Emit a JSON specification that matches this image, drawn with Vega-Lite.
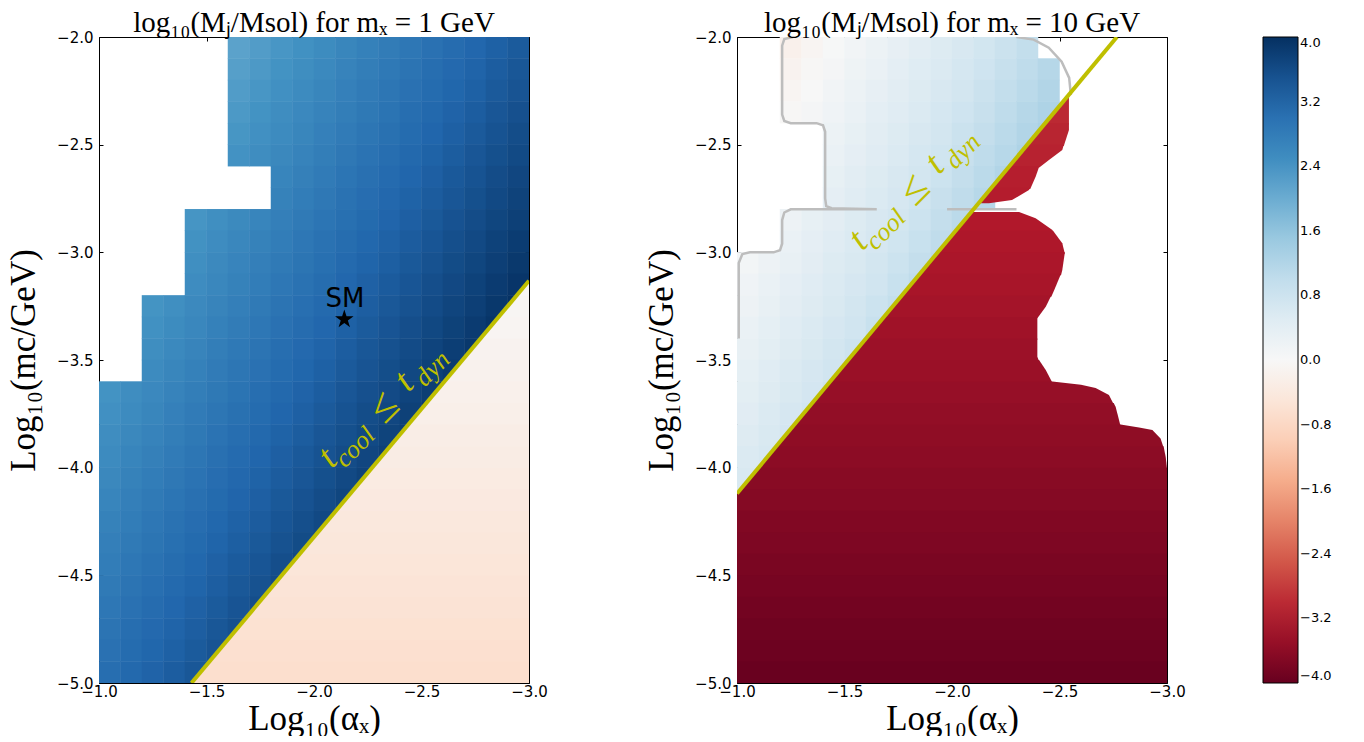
{
"$schema":"https://vega.github.io/schema/vega-lite/v6.json",
"background":"white",
"padding":{"left":6,"top":9,"right":5,"bottom":0},
"datasets":{
"lc":[
{"x":-1.65,"y":-2.05,"v":2.16},{"x":-1.75,"y":-2.05,"v":2.25},{"x":-1.85,"y":-2.05,"v":2.35},{"x":-1.95,"y":-2.05,"v":2.44},{"x":-2.05,"y":-2.05,"v":2.53},{"x":-2.15,"y":-2.05,"v":2.63},{"x":-2.25,"y":-2.05,"v":2.72},{"x":-2.35,"y":-2.05,"v":2.81},{"x":-2.45,"y":-2.05,"v":2.90},{"x":-2.55,"y":-2.05,"v":3.00},{"x":-2.65,"y":-2.05,"v":3.09},{"x":-2.75,"y":-2.05,"v":3.18},{"x":-2.85,"y":-2.05,"v":3.28},{"x":-2.95,"y":-2.05,"v":3.37},
{"x":-1.65,"y":-2.15,"v":2.21},{"x":-1.75,"y":-2.15,"v":2.30},{"x":-1.85,"y":-2.15,"v":2.40},{"x":-1.95,"y":-2.15,"v":2.49},{"x":-2.05,"y":-2.15,"v":2.58},{"x":-2.15,"y":-2.15,"v":2.68},{"x":-2.25,"y":-2.15,"v":2.77},{"x":-2.35,"y":-2.15,"v":2.86},{"x":-2.45,"y":-2.15,"v":2.95},{"x":-2.55,"y":-2.15,"v":3.05},{"x":-2.65,"y":-2.15,"v":3.14},{"x":-2.75,"y":-2.15,"v":3.23},{"x":-2.85,"y":-2.15,"v":3.33},{"x":-2.95,"y":-2.15,"v":3.42},
{"x":-1.65,"y":-2.25,"v":2.26},{"x":-1.75,"y":-2.25,"v":2.35},{"x":-1.85,"y":-2.25,"v":2.45},{"x":-1.95,"y":-2.25,"v":2.54},{"x":-2.05,"y":-2.25,"v":2.63},{"x":-2.15,"y":-2.25,"v":2.73},{"x":-2.25,"y":-2.25,"v":2.82},{"x":-2.35,"y":-2.25,"v":2.91},{"x":-2.45,"y":-2.25,"v":3.00},{"x":-2.55,"y":-2.25,"v":3.10},{"x":-2.65,"y":-2.25,"v":3.19},{"x":-2.75,"y":-2.25,"v":3.28},{"x":-2.85,"y":-2.25,"v":3.38},{"x":-2.95,"y":-2.25,"v":3.47},
{"x":-1.65,"y":-2.35,"v":2.31},{"x":-1.75,"y":-2.35,"v":2.40},{"x":-1.85,"y":-2.35,"v":2.50},{"x":-1.95,"y":-2.35,"v":2.59},{"x":-2.05,"y":-2.35,"v":2.68},{"x":-2.15,"y":-2.35,"v":2.78},{"x":-2.25,"y":-2.35,"v":2.87},{"x":-2.35,"y":-2.35,"v":2.96},{"x":-2.45,"y":-2.35,"v":3.05},{"x":-2.55,"y":-2.35,"v":3.15},{"x":-2.65,"y":-2.35,"v":3.24},{"x":-2.75,"y":-2.35,"v":3.33},{"x":-2.85,"y":-2.35,"v":3.43},{"x":-2.95,"y":-2.35,"v":3.52},
{"x":-1.65,"y":-2.45,"v":2.36},{"x":-1.75,"y":-2.45,"v":2.45},{"x":-1.85,"y":-2.45,"v":2.55},{"x":-1.95,"y":-2.45,"v":2.64},{"x":-2.05,"y":-2.45,"v":2.73},{"x":-2.15,"y":-2.45,"v":2.83},{"x":-2.25,"y":-2.45,"v":2.92},{"x":-2.35,"y":-2.45,"v":3.01},{"x":-2.45,"y":-2.45,"v":3.10},{"x":-2.55,"y":-2.45,"v":3.20},{"x":-2.65,"y":-2.45,"v":3.29},{"x":-2.75,"y":-2.45,"v":3.38},{"x":-2.85,"y":-2.45,"v":3.48},{"x":-2.95,"y":-2.45,"v":3.57},
{"x":-1.65,"y":-2.55,"v":2.41},{"x":-1.75,"y":-2.55,"v":2.50},{"x":-1.85,"y":-2.55,"v":2.60},{"x":-1.95,"y":-2.55,"v":2.69},{"x":-2.05,"y":-2.55,"v":2.78},{"x":-2.15,"y":-2.55,"v":2.88},{"x":-2.25,"y":-2.55,"v":2.97},{"x":-2.35,"y":-2.55,"v":3.06},{"x":-2.45,"y":-2.55,"v":3.15},{"x":-2.55,"y":-2.55,"v":3.25},{"x":-2.65,"y":-2.55,"v":3.34},{"x":-2.75,"y":-2.55,"v":3.43},{"x":-2.85,"y":-2.55,"v":3.53},{"x":-2.95,"y":-2.55,"v":3.62},
{"x":-1.85,"y":-2.65,"v":2.65},{"x":-1.95,"y":-2.65,"v":2.74},{"x":-2.05,"y":-2.65,"v":2.83},{"x":-2.15,"y":-2.65,"v":2.93},{"x":-2.25,"y":-2.65,"v":3.02},{"x":-2.35,"y":-2.65,"v":3.11},{"x":-2.45,"y":-2.65,"v":3.20},{"x":-2.55,"y":-2.65,"v":3.30},{"x":-2.65,"y":-2.65,"v":3.39},{"x":-2.75,"y":-2.65,"v":3.48},{"x":-2.85,"y":-2.65,"v":3.58},{"x":-2.95,"y":-2.65,"v":3.67},
{"x":-1.85,"y":-2.75,"v":2.70},{"x":-1.95,"y":-2.75,"v":2.79},{"x":-2.05,"y":-2.75,"v":2.88},{"x":-2.15,"y":-2.75,"v":2.98},{"x":-2.25,"y":-2.75,"v":3.07},{"x":-2.35,"y":-2.75,"v":3.16},{"x":-2.45,"y":-2.75,"v":3.25},{"x":-2.55,"y":-2.75,"v":3.35},{"x":-2.65,"y":-2.75,"v":3.44},{"x":-2.75,"y":-2.75,"v":3.53},{"x":-2.85,"y":-2.75,"v":3.63},{"x":-2.95,"y":-2.75,"v":3.72},
{"x":-1.45,"y":-2.85,"v":2.37},{"x":-1.55,"y":-2.85,"v":2.47},{"x":-1.65,"y":-2.85,"v":2.56},{"x":-1.75,"y":-2.85,"v":2.65},{"x":-1.85,"y":-2.85,"v":2.75},{"x":-1.95,"y":-2.85,"v":2.84},{"x":-2.05,"y":-2.85,"v":2.93},{"x":-2.15,"y":-2.85,"v":3.03},{"x":-2.25,"y":-2.85,"v":3.12},{"x":-2.35,"y":-2.85,"v":3.21},{"x":-2.45,"y":-2.85,"v":3.30},{"x":-2.55,"y":-2.85,"v":3.40},{"x":-2.65,"y":-2.85,"v":3.49},{"x":-2.75,"y":-2.85,"v":3.58},{"x":-2.85,"y":-2.85,"v":3.68},{"x":-2.95,"y":-2.85,"v":3.77},
{"x":-1.45,"y":-2.95,"v":2.42},{"x":-1.55,"y":-2.95,"v":2.52},{"x":-1.65,"y":-2.95,"v":2.61},{"x":-1.75,"y":-2.95,"v":2.70},{"x":-1.85,"y":-2.95,"v":2.80},{"x":-1.95,"y":-2.95,"v":2.89},{"x":-2.05,"y":-2.95,"v":2.98},{"x":-2.15,"y":-2.95,"v":3.08},{"x":-2.25,"y":-2.95,"v":3.17},{"x":-2.35,"y":-2.95,"v":3.26},{"x":-2.45,"y":-2.95,"v":3.35},{"x":-2.55,"y":-2.95,"v":3.45},{"x":-2.65,"y":-2.95,"v":3.54},{"x":-2.75,"y":-2.95,"v":3.63},{"x":-2.85,"y":-2.95,"v":3.73},{"x":-2.95,"y":-2.95,"v":3.82},
{"x":-1.45,"y":-3.05,"v":2.47},{"x":-1.55,"y":-3.05,"v":2.57},{"x":-1.65,"y":-3.05,"v":2.66},{"x":-1.75,"y":-3.05,"v":2.75},{"x":-1.85,"y":-3.05,"v":2.85},{"x":-1.95,"y":-3.05,"v":2.94},{"x":-2.05,"y":-3.05,"v":3.03},{"x":-2.15,"y":-3.05,"v":3.13},{"x":-2.25,"y":-3.05,"v":3.22},{"x":-2.35,"y":-3.05,"v":3.31},{"x":-2.45,"y":-3.05,"v":3.40},{"x":-2.55,"y":-3.05,"v":3.50},{"x":-2.65,"y":-3.05,"v":3.59},{"x":-2.75,"y":-3.05,"v":3.68},{"x":-2.85,"y":-3.05,"v":3.78},{"x":-2.95,"y":-3.05,"v":3.87},
{"x":-1.45,"y":-3.15,"v":2.52},{"x":-1.55,"y":-3.15,"v":2.62},{"x":-1.65,"y":-3.15,"v":2.71},{"x":-1.75,"y":-3.15,"v":2.80},{"x":-1.85,"y":-3.15,"v":2.90},{"x":-1.95,"y":-3.15,"v":2.99},{"x":-2.05,"y":-3.15,"v":3.08},{"x":-2.15,"y":-3.15,"v":3.18},{"x":-2.25,"y":-3.15,"v":3.27},{"x":-2.35,"y":-3.15,"v":3.36},{"x":-2.45,"y":-3.15,"v":3.45},{"x":-2.55,"y":-3.15,"v":3.55},{"x":-2.65,"y":-3.15,"v":3.64},{"x":-2.75,"y":-3.15,"v":3.73},{"x":-2.85,"y":-3.15,"v":3.83},{"x":-2.95,"y":-3.15,"v":3.92},
{"x":-1.25,"y":-3.25,"v":2.39},{"x":-1.35,"y":-3.25,"v":2.48},{"x":-1.45,"y":-3.25,"v":2.57},{"x":-1.55,"y":-3.25,"v":2.67},{"x":-1.65,"y":-3.25,"v":2.76},{"x":-1.75,"y":-3.25,"v":2.85},{"x":-1.85,"y":-3.25,"v":2.95},{"x":-1.95,"y":-3.25,"v":3.04},{"x":-2.05,"y":-3.25,"v":3.13},{"x":-2.15,"y":-3.25,"v":3.23},{"x":-2.25,"y":-3.25,"v":3.32},{"x":-2.35,"y":-3.25,"v":3.41},{"x":-2.45,"y":-3.25,"v":3.50},{"x":-2.55,"y":-3.25,"v":3.60},{"x":-2.65,"y":-3.25,"v":3.69},{"x":-2.75,"y":-3.25,"v":3.78},{"x":-2.85,"y":-3.25,"v":3.88},{"x":-2.95,"y":-3.25,"v":3.97},
{"x":-1.25,"y":-3.35,"v":2.44},{"x":-1.35,"y":-3.35,"v":2.53},{"x":-1.45,"y":-3.35,"v":2.62},{"x":-1.55,"y":-3.35,"v":2.72},{"x":-1.65,"y":-3.35,"v":2.81},{"x":-1.75,"y":-3.35,"v":2.90},{"x":-1.85,"y":-3.35,"v":3.00},{"x":-1.95,"y":-3.35,"v":3.09},{"x":-2.05,"y":-3.35,"v":3.18},{"x":-2.15,"y":-3.35,"v":3.28},{"x":-2.25,"y":-3.35,"v":3.37},{"x":-2.35,"y":-3.35,"v":3.46},{"x":-2.45,"y":-3.35,"v":3.55},{"x":-2.55,"y":-3.35,"v":3.65},{"x":-2.65,"y":-3.35,"v":3.74},{"x":-2.75,"y":-3.35,"v":3.83},{"x":-2.85,"y":-3.35,"v":3.93},
{"x":-1.25,"y":-3.45,"v":2.49},{"x":-1.35,"y":-3.45,"v":2.58},{"x":-1.45,"y":-3.45,"v":2.67},{"x":-1.55,"y":-3.45,"v":2.77},{"x":-1.65,"y":-3.45,"v":2.86},{"x":-1.75,"y":-3.45,"v":2.95},{"x":-1.85,"y":-3.45,"v":3.05},{"x":-1.95,"y":-3.45,"v":3.14},{"x":-2.05,"y":-3.45,"v":3.23},{"x":-2.15,"y":-3.45,"v":3.33},{"x":-2.25,"y":-3.45,"v":3.42},{"x":-2.35,"y":-3.45,"v":3.51},{"x":-2.45,"y":-3.45,"v":3.60},{"x":-2.55,"y":-3.45,"v":3.70},{"x":-2.65,"y":-3.45,"v":3.79},{"x":-2.75,"y":-3.45,"v":3.88},
{"x":-1.25,"y":-3.55,"v":2.54},{"x":-1.35,"y":-3.55,"v":2.63},{"x":-1.45,"y":-3.55,"v":2.72},{"x":-1.55,"y":-3.55,"v":2.82},{"x":-1.65,"y":-3.55,"v":2.91},{"x":-1.75,"y":-3.55,"v":3.00},{"x":-1.85,"y":-3.55,"v":3.10},{"x":-1.95,"y":-3.55,"v":3.19},{"x":-2.05,"y":-3.55,"v":3.28},{"x":-2.15,"y":-3.55,"v":3.38},{"x":-2.25,"y":-3.55,"v":3.47},{"x":-2.35,"y":-3.55,"v":3.56},{"x":-2.45,"y":-3.55,"v":3.65},{"x":-2.55,"y":-3.55,"v":3.75},{"x":-2.65,"y":-3.55,"v":3.84},
{"x":-1.05,"y":-3.65,"v":2.40},{"x":-1.15,"y":-3.65,"v":2.50},{"x":-1.25,"y":-3.65,"v":2.59},{"x":-1.35,"y":-3.65,"v":2.68},{"x":-1.45,"y":-3.65,"v":2.77},{"x":-1.55,"y":-3.65,"v":2.87},{"x":-1.65,"y":-3.65,"v":2.96},{"x":-1.75,"y":-3.65,"v":3.05},{"x":-1.85,"y":-3.65,"v":3.15},{"x":-1.95,"y":-3.65,"v":3.24},{"x":-2.05,"y":-3.65,"v":3.33},{"x":-2.15,"y":-3.65,"v":3.43},{"x":-2.25,"y":-3.65,"v":3.52},{"x":-2.35,"y":-3.65,"v":3.61},{"x":-2.45,"y":-3.65,"v":3.70},{"x":-2.55,"y":-3.65,"v":3.80},{"x":-2.65,"y":-3.65,"v":3.89},
{"x":-1.05,"y":-3.75,"v":2.45},{"x":-1.15,"y":-3.75,"v":2.55},{"x":-1.25,"y":-3.75,"v":2.64},{"x":-1.35,"y":-3.75,"v":2.73},{"x":-1.45,"y":-3.75,"v":2.82},{"x":-1.55,"y":-3.75,"v":2.92},{"x":-1.65,"y":-3.75,"v":3.01},{"x":-1.75,"y":-3.75,"v":3.10},{"x":-1.85,"y":-3.75,"v":3.20},{"x":-1.95,"y":-3.75,"v":3.29},{"x":-2.05,"y":-3.75,"v":3.38},{"x":-2.15,"y":-3.75,"v":3.48},{"x":-2.25,"y":-3.75,"v":3.57},{"x":-2.35,"y":-3.75,"v":3.66},{"x":-2.45,"y":-3.75,"v":3.75},{"x":-2.55,"y":-3.75,"v":3.85},
{"x":-1.05,"y":-3.85,"v":2.50},{"x":-1.15,"y":-3.85,"v":2.60},{"x":-1.25,"y":-3.85,"v":2.69},{"x":-1.35,"y":-3.85,"v":2.78},{"x":-1.45,"y":-3.85,"v":2.87},{"x":-1.55,"y":-3.85,"v":2.97},{"x":-1.65,"y":-3.85,"v":3.06},{"x":-1.75,"y":-3.85,"v":3.15},{"x":-1.85,"y":-3.85,"v":3.25},{"x":-1.95,"y":-3.85,"v":3.34},{"x":-2.05,"y":-3.85,"v":3.43},{"x":-2.15,"y":-3.85,"v":3.53},{"x":-2.25,"y":-3.85,"v":3.62},{"x":-2.35,"y":-3.85,"v":3.71},{"x":-2.45,"y":-3.85,"v":3.80},
{"x":-1.05,"y":-3.95,"v":2.55},{"x":-1.15,"y":-3.95,"v":2.65},{"x":-1.25,"y":-3.95,"v":2.74},{"x":-1.35,"y":-3.95,"v":2.83},{"x":-1.45,"y":-3.95,"v":2.92},{"x":-1.55,"y":-3.95,"v":3.02},{"x":-1.65,"y":-3.95,"v":3.11},{"x":-1.75,"y":-3.95,"v":3.20},{"x":-1.85,"y":-3.95,"v":3.30},{"x":-1.95,"y":-3.95,"v":3.39},{"x":-2.05,"y":-3.95,"v":3.48},{"x":-2.15,"y":-3.95,"v":3.58},{"x":-2.25,"y":-3.95,"v":3.67},{"x":-2.35,"y":-3.95,"v":3.76},
{"x":-1.05,"y":-4.05,"v":2.60},{"x":-1.15,"y":-4.05,"v":2.70},{"x":-1.25,"y":-4.05,"v":2.79},{"x":-1.35,"y":-4.05,"v":2.88},{"x":-1.45,"y":-4.05,"v":2.97},{"x":-1.55,"y":-4.05,"v":3.07},{"x":-1.65,"y":-4.05,"v":3.16},{"x":-1.75,"y":-4.05,"v":3.25},{"x":-1.85,"y":-4.05,"v":3.35},{"x":-1.95,"y":-4.05,"v":3.44},{"x":-2.05,"y":-4.05,"v":3.53},{"x":-2.15,"y":-4.05,"v":3.63},{"x":-2.25,"y":-4.05,"v":3.72},
{"x":-1.05,"y":-4.15,"v":2.65},{"x":-1.15,"y":-4.15,"v":2.75},{"x":-1.25,"y":-4.15,"v":2.84},{"x":-1.35,"y":-4.15,"v":2.93},{"x":-1.45,"y":-4.15,"v":3.02},{"x":-1.55,"y":-4.15,"v":3.12},{"x":-1.65,"y":-4.15,"v":3.21},{"x":-1.75,"y":-4.15,"v":3.30},{"x":-1.85,"y":-4.15,"v":3.40},{"x":-1.95,"y":-4.15,"v":3.49},{"x":-2.05,"y":-4.15,"v":3.58},{"x":-2.15,"y":-4.15,"v":3.68},
{"x":-1.05,"y":-4.25,"v":2.70},{"x":-1.15,"y":-4.25,"v":2.80},{"x":-1.25,"y":-4.25,"v":2.89},{"x":-1.35,"y":-4.25,"v":2.98},{"x":-1.45,"y":-4.25,"v":3.07},{"x":-1.55,"y":-4.25,"v":3.17},{"x":-1.65,"y":-4.25,"v":3.26},{"x":-1.75,"y":-4.25,"v":3.35},{"x":-1.85,"y":-4.25,"v":3.45},{"x":-1.95,"y":-4.25,"v":3.54},{"x":-2.05,"y":-4.25,"v":3.63},{"x":-2.15,"y":-4.25,"v":3.73},
{"x":-1.05,"y":-4.35,"v":2.75},{"x":-1.15,"y":-4.35,"v":2.85},{"x":-1.25,"y":-4.35,"v":2.94},{"x":-1.35,"y":-4.35,"v":3.03},{"x":-1.45,"y":-4.35,"v":3.12},{"x":-1.55,"y":-4.35,"v":3.22},{"x":-1.65,"y":-4.35,"v":3.31},{"x":-1.75,"y":-4.35,"v":3.40},{"x":-1.85,"y":-4.35,"v":3.50},{"x":-1.95,"y":-4.35,"v":3.59},{"x":-2.05,"y":-4.35,"v":3.68},
{"x":-1.05,"y":-4.45,"v":2.80},{"x":-1.15,"y":-4.45,"v":2.90},{"x":-1.25,"y":-4.45,"v":2.99},{"x":-1.35,"y":-4.45,"v":3.08},{"x":-1.45,"y":-4.45,"v":3.17},{"x":-1.55,"y":-4.45,"v":3.27},{"x":-1.65,"y":-4.45,"v":3.36},{"x":-1.75,"y":-4.45,"v":3.45},{"x":-1.85,"y":-4.45,"v":3.55},{"x":-1.95,"y":-4.45,"v":3.64},
{"x":-1.05,"y":-4.55,"v":2.85},{"x":-1.15,"y":-4.55,"v":2.95},{"x":-1.25,"y":-4.55,"v":3.04},{"x":-1.35,"y":-4.55,"v":3.13},{"x":-1.45,"y":-4.55,"v":3.22},{"x":-1.55,"y":-4.55,"v":3.32},{"x":-1.65,"y":-4.55,"v":3.41},{"x":-1.75,"y":-4.55,"v":3.50},{"x":-1.85,"y":-4.55,"v":3.60},
{"x":-1.05,"y":-4.65,"v":2.90},{"x":-1.15,"y":-4.65,"v":3.00},{"x":-1.25,"y":-4.65,"v":3.09},{"x":-1.35,"y":-4.65,"v":3.18},{"x":-1.45,"y":-4.65,"v":3.27},{"x":-1.55,"y":-4.65,"v":3.37},{"x":-1.65,"y":-4.65,"v":3.46},{"x":-1.75,"y":-4.65,"v":3.55},
{"x":-1.05,"y":-4.75,"v":2.95},{"x":-1.15,"y":-4.75,"v":3.05},{"x":-1.25,"y":-4.75,"v":3.14},{"x":-1.35,"y":-4.75,"v":3.23},{"x":-1.45,"y":-4.75,"v":3.32},{"x":-1.55,"y":-4.75,"v":3.42},{"x":-1.65,"y":-4.75,"v":3.51},
{"x":-1.05,"y":-4.85,"v":3.00},{"x":-1.15,"y":-4.85,"v":3.10},{"x":-1.25,"y":-4.85,"v":3.19},{"x":-1.35,"y":-4.85,"v":3.28},{"x":-1.45,"y":-4.85,"v":3.37},{"x":-1.55,"y":-4.85,"v":3.47},
{"x":-1.05,"y":-4.95,"v":3.05},{"x":-1.15,"y":-4.95,"v":3.15},{"x":-1.25,"y":-4.95,"v":3.24},{"x":-1.35,"y":-4.95,"v":3.33},{"x":-1.45,"y":-4.95,"v":3.42},{"x":-1.55,"y":-4.95,"v":3.52}
],
"lb":[
{"b":1,"y":-3.132,"x":-3.0,"v":-0.02},{"b":1,"y":-3.206,"x":-2.943,"v":-0.02},
{"b":2,"y":-3.2,"x":-2.943,"v":-0.06},{"b":2,"y":-3.306,"x":-2.859,"v":-0.06},
{"b":3,"y":-3.3,"x":-2.859,"v":-0.09},{"b":3,"y":-3.406,"x":-2.774,"v":-0.09},
{"b":4,"y":-3.4,"x":-2.774,"v":-0.13},{"b":4,"y":-3.506,"x":-2.690,"v":-0.13},
{"b":5,"y":-3.5,"x":-2.690,"v":-0.17},{"b":5,"y":-3.606,"x":-2.606,"v":-0.17},
{"b":6,"y":-3.6,"x":-2.606,"v":-0.20},{"b":6,"y":-3.706,"x":-2.522,"v":-0.20},
{"b":7,"y":-3.7,"x":-2.522,"v":-0.24},{"b":7,"y":-3.806,"x":-2.438,"v":-0.24},
{"b":8,"y":-3.8,"x":-2.438,"v":-0.28},{"b":8,"y":-3.906,"x":-2.354,"v":-0.28},
{"b":9,"y":-3.9,"x":-2.354,"v":-0.31},{"b":9,"y":-4.006,"x":-2.270,"v":-0.31},
{"b":10,"y":-4.0,"x":-2.270,"v":-0.35},{"b":10,"y":-4.106,"x":-2.186,"v":-0.35},
{"b":11,"y":-4.1,"x":-2.186,"v":-0.39},{"b":11,"y":-4.206,"x":-2.102,"v":-0.39},
{"b":12,"y":-4.2,"x":-2.102,"v":-0.43},{"b":12,"y":-4.306,"x":-2.018,"v":-0.43},
{"b":13,"y":-4.3,"x":-2.018,"v":-0.46},{"b":13,"y":-4.406,"x":-1.934,"v":-0.46},
{"b":14,"y":-4.4,"x":-1.934,"v":-0.50},{"b":14,"y":-4.506,"x":-1.850,"v":-0.50},
{"b":15,"y":-4.5,"x":-1.850,"v":-0.54},{"b":15,"y":-4.606,"x":-1.766,"v":-0.54},
{"b":16,"y":-4.6,"x":-1.766,"v":-0.57},{"b":16,"y":-4.706,"x":-1.682,"v":-0.57},
{"b":17,"y":-4.7,"x":-1.682,"v":-0.61},{"b":17,"y":-4.806,"x":-1.598,"v":-0.61},
{"b":18,"y":-4.8,"x":-1.598,"v":-0.65},{"b":18,"y":-4.906,"x":-1.514,"v":-0.65},
{"b":19,"y":-4.9,"x":-1.514,"v":-0.68},{"b":19,"y":-5.0,"x":-1.430,"v":-0.68}
],
"ll":[{"x":-1.43,"y":-5.0},{"x":-3.0,"y":-3.132}],
"rc":[
{"x":-1.25,"y":-2.05,"v":-0.20},{"x":-1.35,"y":-2.05,"v":-0.09},{"x":-1.45,"y":-2.05,"v":0.02},{"x":-1.55,"y":-2.05,"v":0.12},{"x":-1.65,"y":-2.05,"v":0.23},{"x":-1.75,"y":-2.05,"v":0.34},{"x":-1.85,"y":-2.05,"v":0.45},{"x":-1.95,"y":-2.05,"v":0.55},{"x":-2.05,"y":-2.05,"v":0.66},{"x":-2.15,"y":-2.05,"v":0.77},{"x":-2.25,"y":-2.05,"v":0.87},{"x":-2.35,"y":-2.05,"v":0.98},
{"x":-1.25,"y":-2.15,"v":-0.14},{"x":-1.35,"y":-2.15,"v":-0.04},{"x":-1.45,"y":-2.15,"v":0.07},{"x":-1.55,"y":-2.15,"v":0.18},{"x":-1.65,"y":-2.15,"v":0.28},{"x":-1.75,"y":-2.15,"v":0.39},{"x":-1.85,"y":-2.15,"v":0.50},{"x":-1.95,"y":-2.15,"v":0.60},{"x":-2.05,"y":-2.15,"v":0.71},{"x":-2.15,"y":-2.15,"v":0.82},{"x":-2.25,"y":-2.15,"v":0.93},{"x":-2.35,"y":-2.15,"v":1.03},{"x":-2.45,"y":-2.15,"v":1.14},
{"x":-1.25,"y":-2.25,"v":-0.09},{"x":-1.35,"y":-2.25,"v":0.01},{"x":-1.45,"y":-2.25,"v":0.12},{"x":-1.55,"y":-2.25,"v":0.23},{"x":-1.65,"y":-2.25,"v":0.34},{"x":-1.75,"y":-2.25,"v":0.44},{"x":-1.85,"y":-2.25,"v":0.55},{"x":-1.95,"y":-2.25,"v":0.66},{"x":-2.05,"y":-2.25,"v":0.76},{"x":-2.15,"y":-2.25,"v":0.87},{"x":-2.25,"y":-2.25,"v":0.98},{"x":-2.35,"y":-2.25,"v":1.08},{"x":-2.45,"y":-2.25,"v":1.19},
{"x":-1.25,"y":-2.35,"v":-0.04},{"x":-1.35,"y":-2.35,"v":0.07},{"x":-1.45,"y":-2.35,"v":0.17},{"x":-1.55,"y":-2.35,"v":0.28},{"x":-1.65,"y":-2.35,"v":0.39},{"x":-1.75,"y":-2.35,"v":0.49},{"x":-1.85,"y":-2.35,"v":0.60},{"x":-1.95,"y":-2.35,"v":0.71},{"x":-2.05,"y":-2.35,"v":0.82},{"x":-2.15,"y":-2.35,"v":0.92},{"x":-2.25,"y":-2.35,"v":1.03},{"x":-2.35,"y":-2.35,"v":1.14},{"x":-2.45,"y":-2.35,"v":1.24},
{"x":-1.45,"y":-2.45,"v":0.23},{"x":-1.55,"y":-2.45,"v":0.33},{"x":-1.65,"y":-2.45,"v":0.44},{"x":-1.75,"y":-2.45,"v":0.55},{"x":-1.85,"y":-2.45,"v":0.65},{"x":-1.95,"y":-2.45,"v":0.76},{"x":-2.05,"y":-2.45,"v":0.87},{"x":-2.15,"y":-2.45,"v":0.97},{"x":-2.25,"y":-2.45,"v":1.08},{"x":-2.35,"y":-2.45,"v":1.19},{"x":-2.45,"y":-2.45,"v":1.30},
{"x":-1.45,"y":-2.55,"v":0.28},{"x":-1.55,"y":-2.55,"v":0.38},{"x":-1.65,"y":-2.55,"v":0.49},{"x":-1.75,"y":-2.55,"v":0.60},{"x":-1.85,"y":-2.55,"v":0.71},{"x":-1.95,"y":-2.55,"v":0.81},{"x":-2.05,"y":-2.55,"v":0.92},{"x":-2.15,"y":-2.55,"v":1.03},{"x":-2.25,"y":-2.55,"v":1.13},{"x":-2.35,"y":-2.55,"v":1.24},
{"x":-1.45,"y":-2.65,"v":0.33},{"x":-1.55,"y":-2.65,"v":0.44},{"x":-1.65,"y":-2.65,"v":0.54},{"x":-1.75,"y":-2.65,"v":0.65},{"x":-1.85,"y":-2.65,"v":0.76},{"x":-1.95,"y":-2.65,"v":0.86},{"x":-2.05,"y":-2.65,"v":0.97},{"x":-2.15,"y":-2.65,"v":1.08},{"x":-2.25,"y":-2.65,"v":1.19},
{"x":-1.45,"y":-2.75,"v":0.38},{"x":-1.55,"y":-2.75,"v":0.49},{"x":-1.65,"y":-2.75,"v":0.60},{"x":-1.75,"y":-2.75,"v":0.70},{"x":-1.85,"y":-2.75,"v":0.81},{"x":-1.95,"y":-2.75,"v":0.92},{"x":-2.05,"y":-2.75,"v":1.02},{"x":-2.15,"y":-2.75,"v":1.13},
{"x":-1.25,"y":-2.85,"v":0.22},{"x":-1.35,"y":-2.85,"v":0.33},{"x":-1.45,"y":-2.85,"v":0.43},{"x":-1.55,"y":-2.85,"v":0.54},{"x":-1.65,"y":-2.85,"v":0.65},{"x":-1.75,"y":-2.85,"v":0.75},{"x":-1.85,"y":-2.85,"v":0.86},{"x":-1.95,"y":-2.85,"v":0.97},{"x":-2.05,"y":-2.85,"v":1.08},
{"x":-1.25,"y":-2.95,"v":0.27},{"x":-1.35,"y":-2.95,"v":0.38},{"x":-1.45,"y":-2.95,"v":0.49},{"x":-1.55,"y":-2.95,"v":0.59},{"x":-1.65,"y":-2.95,"v":0.70},{"x":-1.75,"y":-2.95,"v":0.81},{"x":-1.85,"y":-2.95,"v":0.91},{"x":-1.95,"y":-2.95,"v":1.02},{"x":-2.05,"y":-2.95,"v":1.13},
{"x":-1.05,"y":-3.05,"v":0.11},{"x":-1.15,"y":-3.05,"v":0.22},{"x":-1.25,"y":-3.05,"v":0.32},{"x":-1.35,"y":-3.05,"v":0.43},{"x":-1.45,"y":-3.05,"v":0.54},{"x":-1.55,"y":-3.05,"v":0.64},{"x":-1.65,"y":-3.05,"v":0.75},{"x":-1.75,"y":-3.05,"v":0.86},{"x":-1.85,"y":-3.05,"v":0.97},{"x":-1.95,"y":-3.05,"v":1.07},
{"x":-1.05,"y":-3.15,"v":0.16},{"x":-1.15,"y":-3.15,"v":0.27},{"x":-1.25,"y":-3.15,"v":0.38},{"x":-1.35,"y":-3.15,"v":0.48},{"x":-1.45,"y":-3.15,"v":0.59},{"x":-1.55,"y":-3.15,"v":0.70},{"x":-1.65,"y":-3.15,"v":0.80},{"x":-1.75,"y":-3.15,"v":0.91},{"x":-1.85,"y":-3.15,"v":1.02},
{"x":-1.05,"y":-3.25,"v":0.21},{"x":-1.15,"y":-3.25,"v":0.32},{"x":-1.25,"y":-3.25,"v":0.43},{"x":-1.35,"y":-3.25,"v":0.53},{"x":-1.45,"y":-3.25,"v":0.64},{"x":-1.55,"y":-3.25,"v":0.75},{"x":-1.65,"y":-3.25,"v":0.86},{"x":-1.75,"y":-3.25,"v":0.96},
{"x":-1.05,"y":-3.35,"v":0.27},{"x":-1.15,"y":-3.35,"v":0.37},{"x":-1.25,"y":-3.35,"v":0.48},{"x":-1.35,"y":-3.35,"v":0.59},{"x":-1.45,"y":-3.35,"v":0.69},{"x":-1.55,"y":-3.35,"v":0.80},{"x":-1.65,"y":-3.35,"v":0.91},
{"x":-1.05,"y":-3.45,"v":0.32},{"x":-1.15,"y":-3.45,"v":0.42},{"x":-1.25,"y":-3.45,"v":0.53},{"x":-1.35,"y":-3.45,"v":0.64},{"x":-1.45,"y":-3.45,"v":0.75},{"x":-1.55,"y":-3.45,"v":0.85},
{"x":-1.05,"y":-3.55,"v":0.37},{"x":-1.15,"y":-3.55,"v":0.48},{"x":-1.25,"y":-3.55,"v":0.58},{"x":-1.35,"y":-3.55,"v":0.69},{"x":-1.45,"y":-3.55,"v":0.80},{"x":-1.55,"y":-3.55,"v":0.90},
{"x":-1.05,"y":-3.65,"v":0.42},{"x":-1.15,"y":-3.65,"v":0.53},{"x":-1.25,"y":-3.65,"v":0.64},{"x":-1.35,"y":-3.65,"v":0.74},{"x":-1.45,"y":-3.65,"v":0.85},
{"x":-1.05,"y":-3.75,"v":0.47},{"x":-1.15,"y":-3.75,"v":0.58},{"x":-1.25,"y":-3.75,"v":0.69},{"x":-1.35,"y":-3.75,"v":0.79},
{"x":-1.05,"y":-3.85,"v":0.53},{"x":-1.15,"y":-3.85,"v":0.63},{"x":-1.25,"y":-3.85,"v":0.74},
{"x":-1.05,"y":-3.95,"v":0.58},{"x":-1.15,"y":-3.95,"v":0.68},
{"x":-1.05,"y":-4.05,"v":0.63},
{"x":-1.05,"y":-4.15,"v":0.68}
],
"rb":[
{"b":1,"y":-2.277,"x":-2.536,"x2":-2.544,"v":-3.01},{"b":1,"y":-2.406,"x":-2.433,"x2":-2.544,"v":-3.01},
{"b":2,"y":-2.4,"x":-2.433,"x2":-2.544,"v":-3.06},{"b":2,"y":-2.432,"x":-2.407,"x2":-2.544,"v":-3.06},{"b":2,"y":-2.506,"x":-2.35,"x2":-2.52,"v":-3.06},
{"b":3,"y":-2.5,"x":-2.35,"x2":-2.52,"v":-3.09},{"b":3,"y":-2.525,"x":-2.329,"x2":-2.513,"v":-3.09},{"b":3,"y":-2.571,"x":-2.291,"x2":-2.451,"v":-3.09},{"b":3,"y":-2.606,"x":-2.267,"x2":-2.406,"v":-3.09},
{"b":4,"y":-2.6,"x":-2.267,"x2":-2.406,"v":-3.13},{"b":4,"y":-2.649,"x":-2.226,"x2":-2.389,"v":-3.13},{"b":4,"y":-2.706,"x":-2.183,"x2":-2.364,"v":-3.13},
{"b":5,"y":-2.7,"x":-2.183,"x2":-2.364,"v":-3.16},{"b":5,"y":-2.711,"x":-2.174,"x2":-2.358,"v":-3.16},{"b":5,"y":-2.757,"x":-2.136,"x2":-2.279,"v":-3.16},{"b":5,"y":-2.772,"x":-2.123,"x2":-2.172,"v":-3.16},
{"b":6,"y":-2.813,"x":-2.089,"x2":-2.312,"v":-3.21},{"b":6,"y":-2.842,"x":-2.065,"x2":-2.389,"v":-3.21},{"b":6,"y":-2.896,"x":-2.02,"x2":-2.467,"v":-3.21},{"b":6,"y":-2.906,"x":-2.017,"x2":-2.47,"v":-3.21},
{"b":7,"y":-2.9,"x":-2.017,"x2":-2.47,"v":-3.24},{"b":7,"y":-2.958,"x":-1.968,"x2":-2.513,"v":-3.24},{"b":7,"y":-3.006,"x":-1.933,"x2":-2.525,"v":-3.24},
{"b":8,"y":-3.0,"x":-1.933,"x2":-2.525,"v":-3.28},{"b":8,"y":-3.082,"x":-1.865,"x2":-2.513,"v":-3.28},{"b":8,"y":-3.106,"x":-1.85,"x2":-2.507,"v":-3.28},
{"b":9,"y":-3.1,"x":-1.85,"x2":-2.507,"v":-3.31},{"b":9,"y":-3.16,"x":-1.80,"x2":-2.482,"v":-3.31},{"b":9,"y":-3.206,"x":-1.767,"x2":-2.462,"v":-3.31},
{"b":10,"y":-3.2,"x":-1.767,"x2":-2.462,"v":-3.35},{"b":10,"y":-3.253,"x":-1.723,"x2":-2.436,"v":-3.35},{"b":10,"y":-3.306,"x":-1.683,"x2":-2.397,"v":-3.35},
{"b":11,"y":-3.3,"x":-1.683,"x2":-2.397,"v":-3.39},{"b":11,"y":-3.406,"x":-1.60,"x2":-2.397,"v":-3.39},
{"b":12,"y":-3.4,"x":-1.60,"x2":-2.397,"v":-3.43},{"b":12,"y":-3.485,"x":-1.529,"x2":-2.397,"v":-3.43},{"b":12,"y":-3.506,"x":-1.517,"x2":-2.405,"v":-3.43},
{"b":13,"y":-3.5,"x":-1.517,"x2":-2.405,"v":-3.46},{"b":13,"y":-3.547,"x":-1.478,"x2":-2.436,"v":-3.46},{"b":13,"y":-3.606,"x":-1.433,"x2":-2.467,"v":-3.46},
{"b":14,"y":-3.6,"x":-1.433,"x2":-2.467,"v":-3.50},{"b":14,"y":-3.615,"x":-1.421,"x2":-2.60,"v":-3.50},{"b":14,"y":-3.63,"x":-1.408,"x2":-2.668,"v":-3.50},{"b":14,"y":-3.663,"x":-1.381,"x2":-2.73,"v":-3.50},{"b":14,"y":-3.706,"x":-1.35,"x2":-2.752,"v":-3.50},
{"b":15,"y":-3.7,"x":-1.35,"x2":-2.752,"v":-3.54},{"b":15,"y":-3.717,"x":-1.336,"x2":-2.761,"v":-3.54},{"b":15,"y":-3.806,"x":-1.267,"x2":-2.784,"v":-3.54},
{"b":16,"y":-3.8,"x":-1.267,"x2":-2.784,"v":-3.57},{"b":16,"y":-3.813,"x":-1.256,"x2":-2.87,"v":-3.57},{"b":16,"y":-3.825,"x":-1.246,"x2":-2.932,"v":-3.57},{"b":16,"y":-3.864,"x":-1.213,"x2":-2.97,"v":-3.57},{"b":16,"y":-3.906,"x":-1.183,"x2":-2.984,"v":-3.57},
{"b":17,"y":-3.9,"x":-1.183,"x2":-2.984,"v":-3.61},{"b":17,"y":-3.95,"x":-1.142,"x2":-2.994,"v":-3.61},{"b":17,"y":-4.006,"x":-1.10,"x2":-3.0,"v":-3.61},
{"b":18,"y":-4.0,"x":-1.10,"x2":-3.0,"v":-3.65},{"b":18,"y":-4.106,"x":-1.017,"x2":-3.0,"v":-3.65},
{"b":19,"y":-4.1,"x":-1.017,"x2":-3.0,"v":-3.68},{"b":19,"y":-4.12,"x":-1.0,"x2":-3.0,"v":-3.68},{"b":19,"y":-4.206,"x":-1.0,"x2":-3.0,"v":-3.68},
{"b":20,"y":-4.2,"x":-1.0,"x2":-3.0,"v":-3.72},{"b":20,"y":-4.306,"x":-1.0,"x2":-3.0,"v":-3.72},
{"b":21,"y":-4.3,"x":-1.0,"x2":-3.0,"v":-3.76},{"b":21,"y":-4.406,"x":-1.0,"x2":-3.0,"v":-3.76},
{"b":22,"y":-4.4,"x":-1.0,"x2":-3.0,"v":-3.80},{"b":22,"y":-4.506,"x":-1.0,"x2":-3.0,"v":-3.80},
{"b":23,"y":-4.5,"x":-1.0,"x2":-3.0,"v":-3.83},{"b":23,"y":-4.606,"x":-1.0,"x2":-3.0,"v":-3.83},
{"b":24,"y":-4.6,"x":-1.0,"x2":-3.0,"v":-3.87},{"b":24,"y":-4.706,"x":-1.0,"x2":-3.0,"v":-3.87},
{"b":25,"y":-4.7,"x":-1.0,"x2":-3.0,"v":-3.91},{"b":25,"y":-4.806,"x":-1.0,"x2":-3.0,"v":-3.91},
{"b":26,"y":-4.8,"x":-1.0,"x2":-3.0,"v":-3.94},{"b":26,"y":-4.906,"x":-1.0,"x2":-3.0,"v":-3.94},
{"b":27,"y":-4.9,"x":-1.0,"x2":-3.0,"v":-3.98},{"b":27,"y":-5.0,"x":-1.0,"x2":-3.0,"v":-3.98}
],
"rl":[{"x":-1.0,"y":-4.12},{"x":-2.767,"y":-2.0}],
"ro":[
{"s":1,"i":1,"x":-1.008,"y":-3.40},{"s":1,"i":2,"x":-1.008,"y":-3.05},{"s":1,"i":3,"x":-1.025,"y":-3.008},{"s":1,"i":4,"x":-1.06,"y":-3.0},{"s":1,"i":5,"x":-1.17,"y":-3.0},{"s":1,"i":6,"x":-1.2,"y":-2.99},{"s":1,"i":7,"x":-1.21,"y":-2.96},{"s":1,"i":8,"x":-1.21,"y":-2.85},{"s":1,"i":9,"x":-1.22,"y":-2.815},{"s":1,"i":10,"x":-1.25,"y":-2.80},{"s":1,"i":11,"x":-1.65,"y":-2.80},{"s":1,"i":12,"x":-1.44,"y":-2.795},{"s":1,"i":13,"x":-1.415,"y":-2.785},{"s":1,"i":14,"x":-1.41,"y":-2.75},{"s":1,"i":15,"x":-1.41,"y":-2.44},{"s":1,"i":16,"x":-1.40,"y":-2.41},{"s":1,"i":17,"x":-1.37,"y":-2.40},{"s":1,"i":18,"x":-1.25,"y":-2.40},{"s":1,"i":19,"x":-1.22,"y":-2.39},{"s":1,"i":20,"x":-1.21,"y":-2.36},{"s":1,"i":21,"x":-1.21,"y":-2.04},{"s":1,"i":22,"x":-1.22,"y":-2.01},{"s":1,"i":23,"x":-1.26,"y":-2.0},
{"s":2,"i":1,"x":-1.977,"y":-2.80},{"s":2,"i":2,"x":-2.30,"y":-2.80},
{"s":3,"i":1,"x":-2.30,"y":-2.0},{"s":3,"i":2,"x":-2.38,"y":-2.012},{"s":3,"i":3,"x":-2.45,"y":-2.05},{"s":3,"i":4,"x":-2.51,"y":-2.115},{"s":3,"i":5,"x":-2.545,"y":-2.19},{"s":3,"i":6,"x":-2.553,"y":-2.27}
]
},
"hconcat":[
{
"width":430,"height":646,
"title":{"text":"log₁₀(Mⱼ/Msol) for mₓ = 1 GeV"},
"resolve":{"axis":{"x":"independent","y":"independent"}},
"layer":[
{"data":{"name":"lc"},"mark":{"type":"square","size":484,"opacity":1,"clip":true},
"encoding":{
"x":{"field":"x","type":"quantitative","scale":{"domain":[-3,-1],"reverse":true,"nice":false,"zero":false},"axis":{"orient":"bottom","values":[-1,-1.5,-2,-2.5,-3],"format":".1f","title":"Log₁₀(αₓ)"}},
"y":{"field":"y","type":"quantitative","scale":{"domain":[-5,-2],"nice":false,"zero":false},"axis":{"orient":"left","values":[-5,-4.5,-4,-3.5,-3,-2.5,-2],"format":".1f","title":"Log₁₀(mc/GeV)"}},
"color":{"field":"v","type":"quantitative","scale":{"domain":[-4,-3.2,-2.4,-1.6,-0.8,0,0.8,1.6,2.4,3.2,4],"range":["#67001f","#b2182b","#d6604d","#f4a582","#fddbc7","#f7f7f7","#d1e5f0","#92c5de","#4393c3","#2166ac","#053061"],"interpolate":"rgb"},"legend":{"type":"gradient","title":null,"values":[-4,-3.2,-2.4,-1.6,-0.8,0,0.8,1.6,2.4,3.2,4],"format":".1f","direction":"vertical"}}}},
{"data":{"name":"lb"},"mark":{"type":"area","orient":"horizontal","clip":true},
"encoding":{
"y":{"field":"y","type":"quantitative","axis":null},
"x":{"field":"x","type":"quantitative","axis":null},
"x2":{"datum":-3},
"detail":{"field":"b","type":"quantitative"},
"color":{"field":"v","type":"quantitative"}}},
{"data":{"name":"ll"},"mark":{"type":"line","color":"#bfbf00","strokeWidth":4,"clip":true},
"encoding":{
"x":{"field":"x","type":"quantitative","axis":{"orient":"top","values":[-1,-1.5,-2,-2.5,-3],"labels":false,"title":null}},
"y":{"field":"y","type":"quantitative","axis":{"orient":"right","values":[-5,-4.5,-4,-3.5,-3,-2.5,-2],"labels":false,"title":null}}}},
{"data":{"values":[{"x":-2.141,"y":-3.311}]},"mark":{"type":"point","shape":"M0,-1L0.225,-0.309L0.951,-0.309L0.363,0.118L0.588,0.809L0,0.382L-0.588,0.809L-0.363,0.118L-0.951,-0.309L-0.225,-0.309Z","size":380,"filled":true,"color":"black","opacity":1},
"encoding":{"x":{"field":"x","type":"quantitative","axis":null},"y":{"field":"y","type":"quantitative","axis":null}}},
{"data":{"values":[{"x":-2.144,"y":-3.254,"t":"SM"}]},"mark":{"type":"text","align":"center","baseline":"alphabetic","font":"DejaVu Sans","fontSize":26,"color":"black"},
"encoding":{"x":{"field":"x","type":"quantitative","axis":null},"y":{"field":"y","type":"quantitative","axis":null},"text":{"field":"t"}}},
{"data":{"values":[{"x":-2.100,"y":-3.990,"t":"t"},{"x":-2.455,"y":-3.636,"t":"t"}]},"mark":{"type":"text","angle":315,"align":"center","baseline":"alphabetic","font":"Liberation Serif","fontStyle":"italic","fontSize":37,"color":"#bfbf00"},
"encoding":{"x":{"field":"x","type":"quantitative","axis":null},"y":{"field":"y","type":"quantitative","axis":null},"text":{"field":"t"}}},
{"data":{"values":[{"x":-2.218,"y":-3.931,"t":"cool"},{"x":-2.577,"y":-3.567,"t":"dyn"}]},"mark":{"type":"text","angle":315,"align":"center","baseline":"alphabetic","font":"Liberation Serif","fontStyle":"italic","fontSize":26,"color":"#bfbf00"},
"encoding":{"x":{"field":"x","type":"quantitative","axis":null},"y":{"field":"y","type":"quantitative","axis":null},"text":{"field":"t"}}},
{"data":{"values":[{"x":-2.368,"y":-3.762,"t":"≤"}]},"mark":{"type":"text","angle":315,"align":"center","baseline":"alphabetic","font":"Liberation Serif","fontSize":44,"color":"#bfbf00"},
"encoding":{"x":{"field":"x","type":"quantitative","axis":null},"y":{"field":"y","type":"quantitative","axis":null},"text":{"field":"t"}}}
]
},
{
"width":430,"height":646,
"title":{"text":"log₁₀(Mⱼ/Msol) for mₓ = 10 GeV"},
"resolve":{"axis":{"x":"independent","y":"independent"}},
"layer":[
{"data":{"name":"rc"},"mark":{"type":"square","size":484,"opacity":1,"clip":true},
"encoding":{
"x":{"field":"x","type":"quantitative","scale":{"domain":[-3,-1],"reverse":true,"nice":false,"zero":false},"axis":{"orient":"bottom","values":[-1,-1.5,-2,-2.5,-3],"format":".1f","title":"Log₁₀(αₓ)"}},
"y":{"field":"y","type":"quantitative","scale":{"domain":[-5,-2],"nice":false,"zero":false},"axis":{"orient":"left","values":[-5,-4.5,-4,-3.5,-3,-2.5,-2],"format":".1f","title":"Log₁₀(mc/GeV)"}},
"color":{"field":"v","type":"quantitative"}}},
{"data":{"name":"rb"},"mark":{"type":"area","orient":"horizontal","clip":true},
"encoding":{
"y":{"field":"y","type":"quantitative","axis":null},
"x":{"field":"x","type":"quantitative","axis":null},
"x2":{"field":"x2"},
"detail":{"field":"b","type":"quantitative"},
"color":{"field":"v","type":"quantitative"}}},
{"data":{"name":"ro"},"mark":{"type":"line","color":"#bdbdbd","strokeWidth":2.5,"clip":true},
"encoding":{"x":{"field":"x","type":"quantitative","axis":null},"y":{"field":"y","type":"quantitative","axis":null},"detail":{"field":"s","type":"nominal"},"order":{"field":"i","type":"quantitative"}}},
{"data":{"name":"rl"},"mark":{"type":"line","color":"#bfbf00","strokeWidth":4,"clip":true},
"encoding":{
"x":{"field":"x","type":"quantitative","axis":{"orient":"top","values":[-1,-1.5,-2,-2.5,-3],"labels":false,"title":null}},
"y":{"field":"y","type":"quantitative","axis":{"orient":"right","values":[-5,-4.5,-4,-3.5,-3,-2.5,-2],"labels":false,"title":null}}}},
{"data":{"values":[{"x":-1.600,"y":-2.980,"t":"t"},{"x":-1.955,"y":-2.626,"t":"t"}]},"mark":{"type":"text","angle":315,"align":"center","baseline":"alphabetic","font":"Liberation Serif","fontStyle":"italic","fontSize":37,"color":"#bfbf00"},
"encoding":{"x":{"field":"x","type":"quantitative","axis":null},"y":{"field":"y","type":"quantitative","axis":null},"text":{"field":"t"}}},
{"data":{"values":[{"x":-1.718,"y":-2.921,"t":"cool"},{"x":-2.077,"y":-2.557,"t":"dyn"}]},"mark":{"type":"text","angle":315,"align":"center","baseline":"alphabetic","font":"Liberation Serif","fontStyle":"italic","fontSize":26,"color":"#bfbf00"},
"encoding":{"x":{"field":"x","type":"quantitative","axis":null},"y":{"field":"y","type":"quantitative","axis":null},"text":{"field":"t"}}},
{"data":{"values":[{"x":-1.868,"y":-2.752,"t":"≤"}]},"mark":{"type":"text","angle":315,"align":"center","baseline":"alphabetic","font":"Liberation Serif","fontSize":44,"color":"#bfbf00"},
"encoding":{"x":{"field":"x","type":"quantitative","axis":null},"y":{"field":"y","type":"quantitative","axis":null},"text":{"field":"t"}}}
]
}
],
"spacing":208,
"bounds":"flush",
"resolve":{"scale":{"color":"shared"},"legend":{"color":"shared"}},
"config":{
"view":{"stroke":null},
"axis":{"grid":false,"domain":true,"domainColor":"black","domainWidth":1,"ticks":true,"tickColor":"black","tickWidth":1,"tickSize":-4,"labelFont":"DejaVu Sans","labelFontSize":15,"labelColor":"black","labelFlush":false,"labelOverlap":false,"labelBound":false,"titleFont":"Liberation Serif","titleFontSize":35,"titleFontWeight":"normal","titleColor":"black","zindex":1},
"axisX":{"labelPadding":5,"titlePadding":2},
"axisY":{"labelPadding":10,"titlePadding":15},
"legend":{"orient":"right","offset":77,"gradientLength":646,"gradientThickness":35,"gradientStrokeColor":"black","gradientStrokeWidth":1,"labelFont":"DejaVu Sans","labelFontSize":13,"labelColor":"black","labelOffset":4,"labelOverlap":false,"labelBaseline":"middle","padding":0},
"title":{"font":"Liberation Serif","fontSize":29,"fontWeight":"normal","color":"black","offset":-8}
}
}
